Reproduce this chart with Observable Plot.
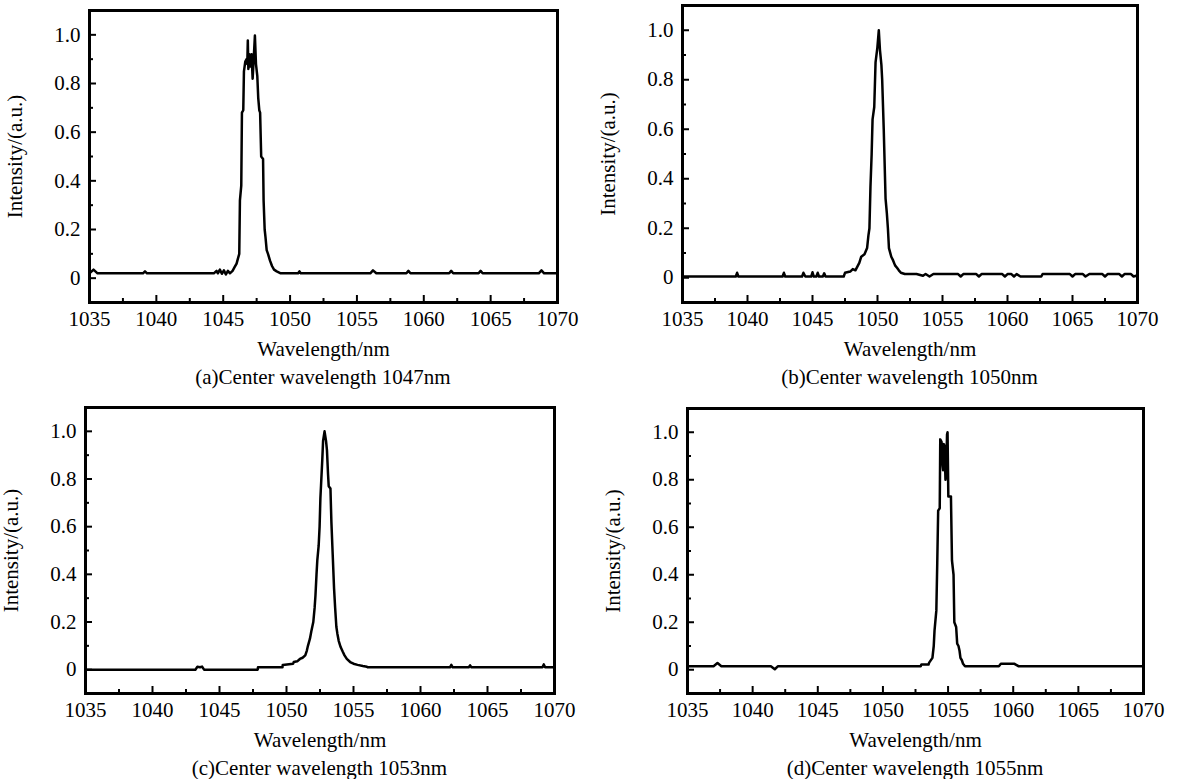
<!DOCTYPE html>
<html><head><meta charset="utf-8">
<script src="https://cdn.jsdelivr.net/npm/d3@7"></script>
<script src="https://cdn.jsdelivr.net/npm/@observablehq/plot@0.6"></script>
<style>
html,body{margin:0;padding:0;background:#fff;}
#root{position:relative;width:1178px;height:779px;overflow:hidden;font-family:"Liberation Serif","Times New Roman",serif;}
.panel{position:absolute;}
.caption{position:absolute;font-size:21px;white-space:nowrap;transform:translate(-50%,-50%);color:#000;font-family:"Liberation Serif",serif;}
</style></head><body><div id="root"></div>
<script>
// Spectrum (a): centre wavelength 1047 nm  [wavelength nm, intensity a.u.]
const spectrumA = [
  [1035,0.02],[1035.3,0.035],[1035.6,0.02],[1039.0,0.02],[1039.15,0.028],[1039.3,0.02],
  [1044.3,0.02],[1044.5,0.03],[1044.6,0.02],[1044.75,0.035],[1044.9,0.018],[1045.05,0.032],
  [1045.2,0.015],[1045.35,0.03],[1045.5,0.02],[1045.7,0.03],[1045.85,0.045],[1046.0,0.06],
  [1046.1,0.08],[1046.2,0.1],[1046.25,0.32],[1046.35,0.38],[1046.4,0.68],[1046.5,0.69],
  [1046.55,0.85],[1046.65,0.89],[1046.75,0.9],[1046.8,0.88],[1046.84,0.977],[1046.88,0.86],
  [1046.95,0.92],[1047.04,0.87],[1047.12,0.92],[1047.2,0.82],[1047.28,0.9],[1047.37,0.997],
  [1047.45,0.88],[1047.55,0.83],[1047.62,0.74],[1047.7,0.69],[1047.76,0.68],[1047.84,0.5],
  [1047.98,0.49],[1048.02,0.32],[1048.1,0.2],[1048.16,0.17],[1048.25,0.115],[1048.35,0.1],
  [1048.5,0.072],[1048.65,0.05],[1048.8,0.035],[1049.0,0.028],[1049.3,0.02],
  [1050.6,0.02],[1050.7,0.028],[1050.8,0.02],[1056.0,0.02],[1056.2,0.032],[1056.45,0.02],
  [1058.7,0.02],[1058.85,0.03],[1059.0,0.02],[1061.9,0.02],[1062.05,0.03],[1062.2,0.02],
  [1064.1,0.02],[1064.25,0.03],[1064.4,0.02],[1068.6,0.02],[1068.8,0.032],[1069.0,0.02],[1070,0.02]
];
// Spectrum (b): centre wavelength 1050 nm
const spectrumB = [
  [1035,0.005],[1039.1,0.005],[1039.2,0.02],[1039.3,0.005],[1042.7,0.005],[1042.8,0.02],[1042.9,0.005],
  [1044.2,0.005],[1044.3,0.02],[1044.45,0.005],[1044.9,0.005],[1045.0,0.022],[1045.1,0.005],
  [1045.3,0.005],[1045.4,0.02],[1045.5,0.005],[1045.8,0.005],[1045.9,0.018],[1046.0,0.005],
  [1047.4,0.005],[1047.5,0.02],[1047.9,0.025],[1048.1,0.035],[1048.3,0.03],[1048.45,0.045],
  [1048.6,0.06],[1048.75,0.085],[1049.0,0.095],[1049.2,0.12],[1049.3,0.17],[1049.38,0.2],
  [1049.46,0.37],[1049.55,0.5],[1049.62,0.64],[1049.75,0.69],[1049.85,0.87],[1049.99,0.93],
  [1050.1,1.0],[1050.19,0.92],[1050.3,0.86],[1050.36,0.8],[1050.48,0.6],[1050.62,0.32],
  [1050.72,0.26],[1050.8,0.2],[1050.88,0.12],[1051.06,0.085],[1051.2,0.07],[1051.35,0.05],
  [1051.5,0.04],[1051.64,0.03],[1051.8,0.02],[1052.1,0.015],[1053.0,0.015],[1053.5,0.008],
  [1053.7,0.015],[1054.0,0.005],[1054.3,0.015],[1056.2,0.015],[1056.4,0.005],[1056.6,0.015],
  [1057.6,0.015],[1057.8,0.005],[1058.0,0.015],[1059.6,0.015],[1059.8,0.005],[1060.0,0.015],
  [1060.3,0.015],[1060.5,0.005],[1060.7,0.015],[1061.0,0.005],[1062.6,0.005],[1062.7,0.015],
  [1064.8,0.015],[1065.0,0.005],[1065.2,0.015],[1065.8,0.015],[1066.0,0.005],[1066.3,0.015],
  [1067.3,0.015],[1067.5,0.005],[1067.7,0.015],[1068.6,0.015],[1068.8,0.005],[1069.0,0.015],
  [1069.5,0.015],[1069.7,0.005],[1069.9,0.008],[1070,0.005]
];
// Spectrum (c): centre wavelength 1053 nm
const spectrumC = [
  [1035,0.0],[1043.2,0.0],[1043.35,0.012],[1043.55,0.01],[1043.7,0.013],[1043.85,0.0],
  [1047.85,0.0],[1047.87,0.01],[1049.7,0.01],[1049.72,0.02],[1050.5,0.025],[1050.54,0.032],
  [1050.8,0.035],[1051.0,0.045],[1051.2,0.05],[1051.4,0.06],[1051.52,0.08],[1051.6,0.1],
  [1051.75,0.13],[1051.85,0.16],[1052.0,0.2],[1052.1,0.26],[1052.16,0.31],[1052.24,0.4],
  [1052.3,0.46],[1052.4,0.52],[1052.47,0.6],[1052.53,0.72],[1052.6,0.8],[1052.67,0.88],
  [1052.73,0.96],[1052.84,1.0],[1052.95,0.96],[1053.02,0.92],[1053.1,0.82],[1053.15,0.77],
  [1053.28,0.76],[1053.35,0.62],[1053.45,0.48],[1053.55,0.34],[1053.63,0.26],[1053.72,0.18],
  [1053.8,0.15],[1053.9,0.12],[1054.04,0.095],[1054.2,0.075],[1054.33,0.06],[1054.5,0.045],
  [1054.75,0.032],[1055.0,0.025],[1055.3,0.02],[1055.7,0.015],[1056.0,0.012],[1056.05,0.01],
  [1062.2,0.01],[1062.3,0.02],[1062.4,0.01],[1063.6,0.01],[1063.7,0.018],[1063.8,0.01],
  [1069.1,0.01],[1069.2,0.022],[1069.3,0.01],[1070,0.01]
];
// Spectrum (d): centre wavelength 1055 nm
const spectrumD = [
  [1035,0.015],[1037.0,0.015],[1037.3,0.028],[1037.6,0.015],[1041.4,0.015],[1041.7,0.002],
  [1041.95,0.015],[1052.9,0.015],[1052.95,0.022],[1053.5,0.022],[1053.55,0.03],[1053.8,0.05],
  [1053.9,0.1],[1053.96,0.165],[1054.1,0.25],[1054.17,0.45],[1054.24,0.67],[1054.36,0.68],
  [1054.4,0.97],[1054.5,0.96],[1054.58,0.86],[1054.62,0.84],[1054.68,0.95],[1054.73,0.94],
  [1054.8,0.8],[1054.85,0.82],[1054.92,0.99],[1054.96,1.0],[1055.02,0.73],[1055.22,0.73],
  [1055.3,0.46],[1055.42,0.4],[1055.48,0.2],[1055.62,0.18],[1055.7,0.11],[1055.8,0.1],
  [1055.88,0.08],[1055.95,0.05],[1056.06,0.04],[1056.15,0.025],[1056.3,0.015],[1058.9,0.015],
  [1059.05,0.025],[1060.1,0.025],[1060.4,0.015],[1070,0.015]
];

const xMajor = [1035, 1040, 1045, 1050, 1055, 1060, 1065, 1070];
const xMinor = [1037.5, 1042.5, 1047.5, 1052.5, 1057.5, 1062.5, 1067.5];
const yMajor = [0, 0.2, 0.4, 0.6, 0.8, 1.0];
const yMinor = [-0.1, 0.1, 0.3, 0.5, 0.7, 0.9];
const xDomain = [1035, 1070];
const yDomain = [-0.1, 1.1];
const xLabel = "Wavelength/nm";
const yLabel = "Intensity/(a.u.)";
const captions = [
  "(a)Center wavelength 1047nm",
  "(b)Center wavelength 1050nm",
  "(c)Center wavelength 1053nm",
  "(d)Center wavelength 1055nm"
];
const spectra = [spectrumA, spectrumB, spectrumC, spectrumD];

// layout: frame box of each panel in page pixels
const frames = [
  {l: 89, r: 557, t: 10, b: 302},
  {l: 682, r: 1137, t: 5, b: 302},
  {l: 85, r: 554, t: 407, b: 693},
  {l: 687, r: 1143, t: 408, b: 693}
];

const root = document.getElementById("root");
const ml = 89, mr = 20, mt = 10, mb = 62;

spectra.forEach((data, i) => {
  const f = frames[i];
  const w = f.r - f.l, h = f.b - f.t;
  const chart = Plot.plot({
    width: w + ml + mr,
    height: h + mt + mb,
    marginLeft: ml, marginRight: mr, marginTop: mt, marginBottom: mb,
    style: {fontFamily: "'Liberation Serif', serif", fontSize: "21px", color: "#000", background: "transparent", overflow: "visible"},
    x: {domain: xDomain},
    y: {domain: yDomain},
    marks: [
      Plot.axisX({ticks: xMajor, tickSize: 0, tickPadding: 9, tickFormat: d => String(d),
        label: xLabel, labelAnchor: "center", labelOffset: 53, labelArrow: "none"}),
      Plot.axisY({ticks: yMajor, tickSize: 0, tickPadding: 9, tickFormat: d => d === 0 ? "0" : d.toFixed(1),
        label: yLabel, labelAnchor: "center", labelOffset: 82, labelArrow: "none"}),
      Plot.tickX(xMajor, {x: d => d, insetTop: h - 7, stroke: "#000", strokeWidth: 2}),
      Plot.tickX(xMinor, {x: d => d, insetTop: h - 4, stroke: "#000", strokeWidth: 2}),
      Plot.tickY(yMajor, {y: d => d, insetRight: w - 7, stroke: "#000", strokeWidth: 2}),
      Plot.tickY(yMinor, {y: d => d, insetRight: w - 4, stroke: "#000", strokeWidth: 2}),
      Plot.line(data, {x: d => d[0], y: d => d[1], stroke: "#000", strokeWidth: 2.5}),
      Plot.frame({stroke: "#000", strokeWidth: 3})
    ]
  });
  chart.classList.add("panel");
  chart.style.left = (f.l - ml) + "px";
  chart.style.top = (f.t - mt) + "px";
  root.appendChild(chart);

  const cap = document.createElement("div");
  cap.className = "caption";
  cap.textContent = captions[i];
  cap.style.left = ((f.l + f.r) / 2) + "px";
  cap.style.top = (f.b + 75) + "px";
  root.appendChild(cap);
});
</script></body></html>
